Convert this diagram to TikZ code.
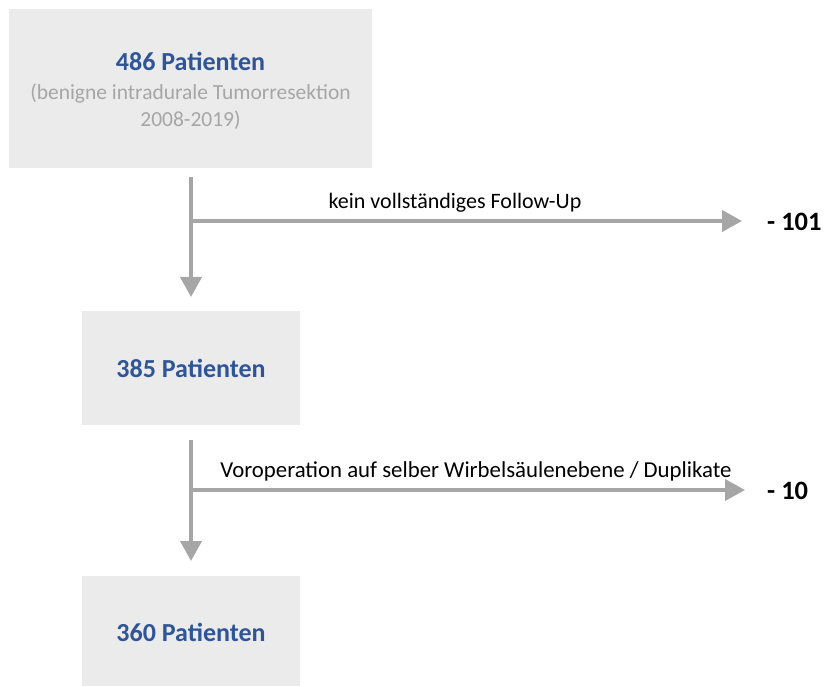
\documentclass[tikz,border=0pt]{standalone}
\usepackage{fontspec}
\setmainfont{Carlito}
\usetikzlibrary{arrows.meta}
\definecolor{boxfill}{HTML}{EBEBEB}
\definecolor{titleblue}{HTML}{2F5597}
\definecolor{subgray}{HTML}{A6A6A6}
\definecolor{linegray}{HTML}{A6A6A6}
\tikzset{
  x=1pt,y=1pt,
  title/.style={font=\fontsize{26}{30}\selectfont\bfseries,text=titleblue,inner sep=0pt},
  sub/.style={font=\fontsize{21.5}{27}\selectfont,text=subgray,align=center,inner sep=0pt},
  lbl/.style={font=\fontsize{22}{26}\selectfont,text=black,inner sep=0pt},
  cnt/.style={font=\fontsize{26.5}{30}\selectfont\bfseries,text=black,inner sep=0pt,anchor=west},
  flow/.style={draw=linegray,line width=4pt,-{Triangle[length=20pt,width=21pt]}},
}
\begin{document}
\begin{tikzpicture}
\useasboundingbox (0,0) rectangle (824,686);
% boxes
\fill[boxfill] (9,518) rectangle (372,677);
\fill[boxfill] (82,261) rectangle (300,375);
\fill[boxfill] (82,0) rectangle (300,110);
\node[title] (t1) at (190.5,625) {486 Patienten};
\node[sub] (s1) at (190.5,579.5) {(benigne intradurale Tumorresektion\\2008-2019)};
\node[title] (t2) at (191,318) {385 Patienten};
\node[title] (t3) at (191,54) {360 Patienten};
% coordinates
\coordinate (a1) at (191,509);
\coordinate (b1) at (191,465);
\coordinate (a1e) at (191,389);
\coordinate (b1e) at (742,465);
\coordinate (a2) at (191,246);
\coordinate (b2) at (191,196);
\coordinate (a2e) at (191,125);
\coordinate (b2e) at (745,196);
% connectors
\draw[flow] (a1) -- (a1e);
\draw[flow] ([xshift=-2pt]b1) -- (b1e);
\draw[flow] (a2) -- (a2e);
\draw[flow] ([xshift=-2pt]b2) -- (b2e);
% labels
\node[lbl] (l1) at (455,483) {kein vollständiges Follow-Up};
\node[lbl,font=\fontsize{22.8}{26}\selectfont] (l2) at (476,215) {Voroperation auf selber Wirbelsäulenebene / Duplikate};
\node[cnt] (c1) at (767,464) {- 101};
\node[cnt] (c2) at (767,195) {- 10};
\end{tikzpicture}
\end{document}
